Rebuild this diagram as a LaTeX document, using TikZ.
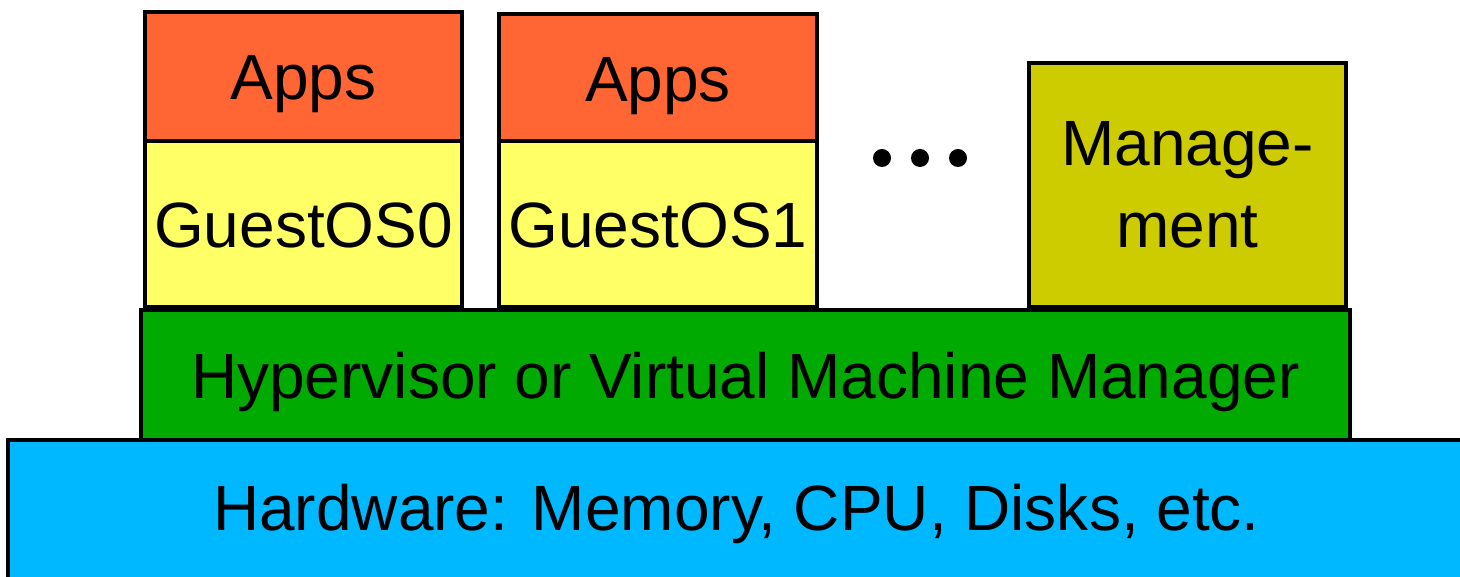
\documentclass[tikz,border=0pt]{standalone}
\usepackage{fontspec}
\setmainfont{Liberation Sans}
\usepackage{xcolor}

\definecolor{hwblue}{HTML}{00B8FF}
\definecolor{hvgreen}{HTML}{00AA00}
\definecolor{appred}{HTML}{FF6633}
\definecolor{osyellow}{HTML}{FFFF66}
\definecolor{mgmtolive}{HTML}{CCCC00}

\tikzset{
  layer/.style={draw=black, line width=1.1pt, inner sep=0pt, align=center,
    font=\fontsize{18.2}{23.3}\selectfont},
  onerow/.style={text height=0.55cm, text depth=0.08cm},
}

\begin{document}
\begin{tikzpicture}[x=0.01cm,y=-0.01cm]

\useasboundingbox (0,0) rectangle (1460,577);
\clip (0,0) rectangle (1460,577);

% hardware and hypervisor
\node[layer, text height=0.45cm, text depth=0.13cm, fill=hwblue, minimum width=14.57cm, minimum height=1.50cm] (hw) at (736.5,515) {Hardware: Memory, CPU, Disks, etc.};
\node[layer, onerow, fill=hvgreen, minimum width=12.09cm, minimum height=1.30cm] (hv) at (745.5,375) {Hypervisor or Virtual Machine Manager};

% guests
\node[layer, onerow, fill=osyellow, minimum width=3.17cm, minimum height=1.66cm] (os0) at (303.5,224) {GuestOS0};
\node[layer, onerow, fill=appred, minimum width=3.17cm, minimum height=1.29cm] (apps0) at (303.5,76.5) {Apps};

\node[layer, onerow, fill=osyellow, minimum width=3.18cm, minimum height=1.66cm] (os1) at (658,224) {GuestOS1};
\node[layer, onerow, fill=appred, minimum width=3.18cm, minimum height=1.27cm] (apps1) at (658,77.5) {Apps};

% management
\node[layer, fill=mgmtolive, minimum width=3.17cm, minimum height=2.44cm] (mgmt) at (1187.5,185) {Manage-\\ment};

% dots
\foreach \x in {882,920,958}
  \fill[black] (\x,158) circle (9);

\end{tikzpicture}
\end{document}
